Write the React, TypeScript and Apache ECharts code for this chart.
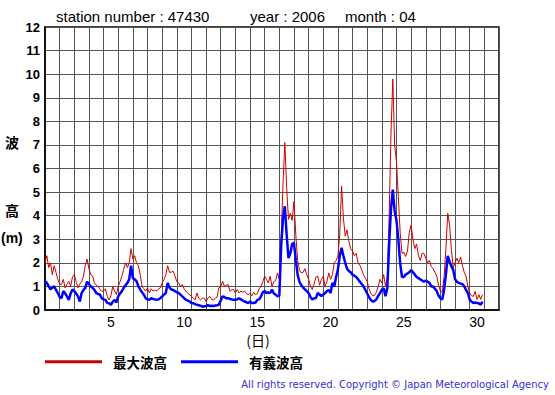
import React, { useEffect, useRef } from "react";
import * as echarts from "echarts";

const stationNumber = "47430";
const yearText = "2006";
const monthText = "04";

const dayCategories = [
  "1", "2", "3", "4", "5", "6", "7", "8", "9", "10",
  "11", "12", "13", "14", "15", "16", "17", "18", "19", "20",
  "21", "22", "23", "24", "25", "26", "27", "28", "29", "30", "31",
];
const dayLabelsShown = ["5", "10", "15", "20", "25", "30"];
const yTicks = { min: 0, max: 12, step: 1 };
const stepHours = 3;

const seriesNames = ["最大波高", "有義波高"];

// 最大波高 (m), every 3 hours, 8 values per day
const maxWave = [
  2.0, 2.3, 1.8, 2.0, 1.5, 1.88, 1.6, 1.3,
  1.1, 1.08, 1.3, 0.94, 1.1, 1.22, 1.0, 1.4,
  1.5, 1.2, 0.94, 1.1, 1.2, 1.44, 1.9, 2.16,
  1.75, 1.5, 1.44, 1.15, 1.05, 1.0, 0.87, 0.8,
  0.8, 0.9, 0.58, 0.43, 0.6, 1.0, 0.8, 0.65,
  1.0, 1.2, 1.44, 1.73, 2.0, 1.8, 2.0, 2.6,
  2.16, 2.3, 2.0, 1.88, 1.5, 1.0, 0.9, 0.8,
  0.94, 0.72, 0.9, 0.8, 0.85, 0.8, 0.9, 0.94,
  1.15, 1.3, 1.5, 1.88, 1.6, 1.6, 1.65, 1.44,
  1.2, 1.15, 1.0, 1.08, 0.9, 0.8, 0.7, 0.65,
  0.58, 0.5, 0.43, 0.72, 0.5, 0.43, 0.5, 0.5,
  0.36, 0.5, 0.58, 0.45, 0.43, 0.5, 0.55, 0.94,
  1.0, 1.22, 1.0, 1.05, 1.08, 0.8, 0.85, 0.87,
  0.72, 0.87, 0.72, 0.8, 0.75, 0.8, 0.7, 0.65,
  0.7, 0.6, 0.75, 0.65, 0.7, 0.9, 1.0, 1.2,
  1.43, 1.3, 1.15, 1.43, 1.0, 1.2, 1.25, 1.57,
  1.3, 3.0, 5.3, 7.1, 5.2, 3.84, 4.1, 3.8,
  4.6, 3.2, 2.1, 1.7, 1.57, 1.6, 1.75, 1.5,
  1.3, 1.0, 0.87, 1.1, 1.4, 1.43, 1.05, 1.3,
  1.43, 1.0, 1.2, 1.57, 1.3, 1.5, 2.0, 2.1,
  2.28, 3.2, 5.26, 3.9, 3.13, 3.4, 2.9, 2.6,
  2.5, 2.3, 2.4, 2.0, 1.9, 1.7, 1.5, 1.35,
  1.2, 0.9, 0.7, 0.6, 0.62, 0.75, 1.0, 1.3,
  1.14, 1.5, 1.0, 1.4, 4.0, 7.5, 9.8, 7.0,
  6.3, 4.8, 3.3, 2.4, 2.45, 2.27, 2.5, 3.3,
  3.6, 3.0, 2.6, 2.8, 2.3, 2.1, 2.4, 2.4,
  2.2, 2.0, 2.1, 1.85, 1.75, 1.6, 1.43, 1.05,
  0.8, 0.75, 1.4, 2.6, 4.1, 3.6, 2.56, 1.8,
  2.0, 2.2, 2.0, 2.25, 1.9, 1.6, 1.43, 1.0,
  0.72, 0.6, 0.58, 0.79, 0.45, 0.65, 0.45, 0.65,
];

// 有義波高 (m), every 3 hours, 8 values per day
const sigWave = [
  1.22, 1.15, 1.0, 0.87, 0.95, 1.0, 0.85, 0.72,
  0.55, 0.5, 0.8, 0.7, 0.58, 0.43, 0.7, 0.87,
  0.8, 0.7, 0.58, 0.36, 0.72, 0.85, 0.94, 1.2,
  1.1, 1.0, 0.94, 0.85, 0.72, 0.68, 0.65, 0.5,
  0.45, 0.43, 0.3, 0.29, 0.22, 0.35, 0.43, 0.32,
  0.58, 0.7, 0.8, 0.94, 1.05, 1.15, 1.3, 1.88,
  1.35, 1.3, 1.22, 1.0, 0.87, 0.75, 0.65, 0.5,
  0.45, 0.43, 0.5, 0.47, 0.45, 0.43, 0.45, 0.5,
  0.58, 0.65, 0.72, 1.15, 0.95, 0.87, 0.85, 0.8,
  0.75, 0.72, 0.65, 0.58, 0.5, 0.43, 0.4, 0.36,
  0.3, 0.29, 0.25, 0.22, 0.2, 0.18, 0.14, 0.16,
  0.17, 0.2, 0.17, 0.18, 0.17, 0.19, 0.2, 0.22,
  0.4, 0.58, 0.55, 0.5, 0.5, 0.47, 0.45, 0.43,
  0.43, 0.45, 0.5, 0.45, 0.4, 0.36, 0.33, 0.29,
  0.36, 0.3, 0.3, 0.32, 0.43, 0.45, 0.58, 0.75,
  0.8, 0.72, 0.75, 0.72, 0.87, 0.7, 0.65, 0.58,
  0.6, 2.7, 3.9, 4.4, 3.2, 2.2, 2.4, 2.8,
  2.85, 2.1, 1.5, 1.2, 1.05, 0.95, 0.87, 0.8,
  0.72, 0.55, 0.44, 0.5, 0.5, 0.72, 0.65, 0.6,
  0.65, 0.72, 0.8, 0.85, 0.72, 1.15, 1.0, 1.4,
  1.7, 2.3, 2.64, 2.3, 2.0, 1.75, 1.65, 1.6,
  1.5, 1.45, 1.4, 1.3, 1.2, 1.1, 1.0, 0.85,
  0.7, 0.55, 0.42, 0.36, 0.38, 0.45, 0.6, 0.72,
  0.86, 0.93, 0.58, 0.93, 2.8, 4.3, 5.1, 4.2,
  3.8, 3.0, 2.0, 1.4, 1.4, 1.5, 1.55, 1.6,
  1.7, 1.6, 1.5, 1.4, 1.35, 1.3, 1.25, 1.2,
  1.25, 1.2, 1.15, 1.0, 1.0, 0.9, 0.8, 0.6,
  0.5, 0.45, 0.85, 1.5, 2.3, 2.05, 1.85, 1.7,
  1.3, 1.2, 1.15, 1.12, 1.1, 1.0, 0.85, 0.72,
  0.44, 0.35, 0.3, 0.32, 0.3, 0.28, 0.23, 0.35,
];

const LATIN = "'Liberation Sans', Arial, Helvetica, sans-serif";
const CJK = "'Noto Sans CJK JP', 'Liberation Sans', sans-serif";

function toPoints(values: number[]) {
  return values.map((v, i) => [(i * stepHours) / 24, v]);
}

export default function App() {
  const ref = useRef<HTMLDivElement>(null);

  useEffect(() => {
    if (!ref.current) return;
    const chart = echarts.init(ref.current, undefined, { renderer: "svg" });
    const gridColor = "#555";
    chart.setOption({
      animation: false,
      backgroundColor: "#fff",
      grid: {
        show: true,
        left: 45,
        right: 56,
        top: 27,
        bottom: 85,
        borderColor: "#000",
        borderWidth: 1.5,
        containLabel: false,
      },
      legend: {
        left: 45,
        top: 355,
        padding: 0,
        icon: "rect",
        itemWidth: 57,
        itemHeight: 3,
        itemGap: 14,
        selectedMode: false,
        data: seriesNames,
        textStyle: {
          fontFamily: CJK,
          fontWeight: "bold",
          fontSize: 13.5,
          color: "#000",
          padding: [0, 0, 0, 6],
        },
      },
      xAxis: [
        {
          type: "category",
          data: dayCategories,
          boundaryGap: true,
          axisLine: { show: true, lineStyle: { color: "#000", width: 1.5 } },
          axisTick: { show: false },
          axisLabel: {
            interval: (_i: number, v: string) => dayLabelsShown.includes(v),
            color: "#000",
            fontSize: 14,
            fontFamily: LATIN,
            margin: 5,
          },
          splitLine: { show: true, interval: 0, lineStyle: { color: gridColor, width: 1 } },
        },
        {
          type: "value",
          min: 0,
          max: dayCategories.length,
          show: false,
          splitLine: { show: false },
        },
      ],
      yAxis: {
        type: "value",
        min: yTicks.min,
        max: yTicks.max,
        interval: yTicks.step,
        axisLine: { show: true, lineStyle: { color: "#000", width: 1.5 } },
        axisTick: { show: false },
        axisLabel: {
          color: "#000",
          fontSize: 13,
          fontWeight: "bold",
          fontFamily: LATIN,
          margin: 5,
        },
        splitLine: { show: true, lineStyle: { color: gridColor, width: 1 } },
      },
      series: [
        {
          name: seriesNames[0],
          type: "line",
          xAxisIndex: 1,
          data: toPoints(maxWave),
          showSymbol: false,
          itemStyle: { color: "#cc0000" },
          lineStyle: { color: "#cc0000", width: 1 },
          z: 3,
        },
        {
          name: seriesNames[1],
          type: "line",
          xAxisIndex: 1,
          data: toPoints(sigWave),
          showSymbol: false,
          itemStyle: { color: "#0000ff" },
          lineStyle: { color: "#0000ff", width: 2.5 },
          z: 4,
        },
      ],
      graphic: [
        {
          type: "text",
          left: 56,
          top: 9,
          style: { text: `station number : ${stationNumber}`, fontSize: 15, fontFamily: LATIN, fill: "#000" },
        },
        {
          type: "text",
          left: 250,
          top: 9,
          style: { text: `year : ${yearText}`, fontSize: 15, fontFamily: LATIN, fill: "#000" },
        },
        {
          type: "text",
          left: 345,
          top: 9,
          style: { text: `month : ${monthText}`, fontSize: 15, fontFamily: LATIN, fill: "#000" },
        },
        {
          type: "text",
          x: 12,
          y: 142,
          style: { text: "波", fontSize: 14, fontWeight: "bold", fontFamily: CJK, fill: "#000", align: "center", verticalAlign: "middle" },
        },
        {
          type: "text",
          x: 12,
          y: 210,
          style: { text: "高", fontSize: 14, fontWeight: "bold", fontFamily: CJK, fill: "#000", align: "center", verticalAlign: "middle" },
        },
        {
          type: "text",
          x: 1,
          y: 238,
          style: { text: "(m)", fontSize: 14, fontWeight: "bold", fontFamily: LATIN, fill: "#000", align: "left", verticalAlign: "middle" },
        },
        {
          type: "text",
          x: 258,
          y: 340,
          style: { text: "(日)", fontSize: 14, fontFamily: CJK, fill: "#000", align: "center", verticalAlign: "middle" },
        },
        {
          type: "text",
          x: 549,
          y: 384,
          style: {
            text: "All rights reserved. Copyright © Japan Meteorological Agency",
            fontSize: 10,
            fontFamily: "'DejaVu Sans', sans-serif",
            fill: "#3333cc",
            align: "right",
            verticalAlign: "middle",
          },
        },
      ],
    });
    return () => chart.dispose();
  }, []);

  return (
    <div
      ref={ref}
      style={{ position: "absolute", left: 0, top: 0, width: 555, height: 395 }}
    />
  );
}
